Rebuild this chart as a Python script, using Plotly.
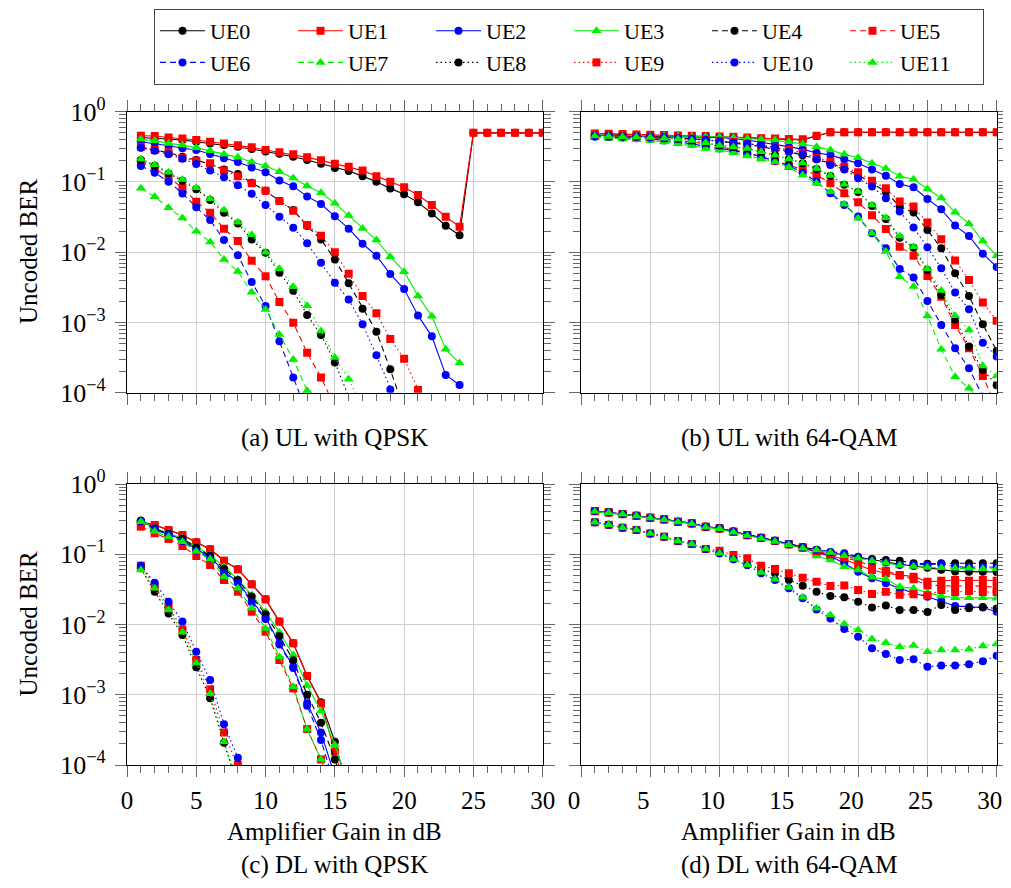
import plotly.graph_objects as go

# ---------------- data ----------------
gain = list(range(1, 31))
ue_names = ["UE0", "UE1", "UE2", "UE3", "UE4", "UE5", "UE6", "UE7", "UE8", "UE9", "UE10", "UE11"]
N = None

# (a) UL with QPSK
a_ue0 = [0.43, 0.42, 0.408, 0.395, 0.374, 0.354, 0.335, 0.318, 0.294, 0.272, 0.252, 0.229, 0.205, 0.182, 0.158,
         0.143, 0.121, 0.101, 0.081, 0.0666, 0.0512, 0.0357, 0.0238, 0.0174, 0.5, 0.5, 0.5, 0.5, 0.5, 0.5]
a_ue1 = [0.455, 0.45, 0.43, 0.417, 0.395, 0.374, 0.354, 0.332, 0.311, 0.285, 0.264, 0.247, 0.224, 0.203, 0.182,
         0.165, 0.145, 0.121, 0.101, 0.0838, 0.0651, 0.0469, 0.032, 0.0231, 0.5, 0.5, 0.5, 0.5, 0.5, 0.5]
a_ue2 = [0.374, 0.354, 0.328, 0.301, 0.285, 0.25, 0.217, 0.192, 0.161, 0.137, 0.105, 0.0865, 0.0623, 0.0485, 0.0324,
         0.0216, 0.0132, 0.00892, 0.00489, 0.00299, 0.00126, 0.000634, 0.000179, 0.000129, N, N, N, N, N, N]
a_ue3 = [0.404, 0.387, 0.354, 0.336, 0.308, 0.279, 0.247, 0.224, 0.192, 0.169, 0.14, 0.114, 0.0875, 0.0703, 0.0496,
         0.0334, 0.0218, 0.0149, 0.00863, 0.00528, 0.00238, 0.00123, 0.000414, 0.000264, N, N, N, N, N, N]
a_ue4 = [0.31, 0.284, 0.261, 0.229, 0.205, 0.178, 0.151, 0.13, 0.0975, 0.075, 0.0535, 0.0398, 0.0236, 0.0152, 0.0079,
         0.0036, 0.00157, 0.00074, 0.000215, 0.0000566, N, N, N, N, N, N, N, N, N, N]
a_ue5 = [0.194, 0.156, 0.116, 0.0828, 0.0524, 0.0365, 0.0216, 0.0144, 0.00757, 0.00453, 0.00195, 0.00099, 0.00037,
         0.000165, 0.0000632, N, N, N, N, N, N, N, N, N, N, N, N, N, N, N]
a_ue6 = [0.169, 0.135, 0.101, 0.0687, 0.0435, 0.0287, 0.0149, 0.00902, 0.00376, 0.00171, 0.000538, 0.000165,
         0.0000508, N, N, N, N, N, N, N, N, N, N, N, N, N, N, N, N, N]
a_ue7 = [0.0811, 0.0617, 0.043, 0.0306, 0.0198, 0.014, 0.0079, 0.00533, 0.00268, 0.00153, 0.000676, 0.000298,
         0.000107, 0.0000408, N, N, N, N, N, N, N, N, N, N, N, N, N, N, N, N]
a_ue8 = [0.205, 0.17, 0.132, 0.104, 0.0784, 0.0553, 0.0365, 0.0257, 0.0152, 0.00984, 0.0051, 0.00283, 0.00128,
         0.000662, 0.00027, 0.0000877, N, N, N, N, N, N, N, N, N, N, N, N, N, N]
a_ue9 = [0.318, 0.284, 0.264, 0.219, 0.2, 0.184, 0.145, 0.121, 0.0955, 0.075, 0.0535, 0.039, 0.0244, 0.0172, 0.00995,
         0.00494, 0.00238, 0.00135, 0.00058, 0.000305, 0.000109, 0.000041, N, N, N, N, N, N, N, N]
a_ue10 = [0.307, 0.279, 0.247, 0.214, 0.18, 0.145, 0.117, 0.0894, 0.0681, 0.0469, 0.032, 0.0223, 0.0134, 0.0071,
          0.00368, 0.00213, 0.00094, 0.00034, 0.000111, 0.0000408, N, N, N, N, N, N, N, N, N, N]
a_ue11 = [0.212, 0.176, 0.137, 0.108, 0.0828, 0.0578, 0.0398, 0.0266, 0.0177, 0.01, 0.00582, 0.00323, 0.00173,
          0.000755, 0.000318, 0.000155, 0.0000632, N, N, N, N, N, N, N, N, N, N, N, N, N]

# (b) UL with 64-QAM
b_ue0 = [0.485, 0.48, 0.475, 0.47, 0.465, 0.46, 0.455, 0.45, 0.445, 0.44, 0.435, 0.425, 0.415, 0.41, 0.4,
         0.395, 0.45, 0.51, 0.51, 0.51, 0.51, 0.51, 0.51, 0.51, 0.51, 0.51, 0.51, 0.51, 0.51, 0.51]
b_ue1 = [0.491, 0.486, 0.48, 0.475, 0.47, 0.465, 0.46, 0.455, 0.45, 0.445, 0.44, 0.43, 0.42, 0.417, 0.408,
         0.404, 0.455, 0.51, 0.51, 0.51, 0.51, 0.51, 0.51, 0.51, 0.51, 0.51, 0.51, 0.51, 0.51, 0.51]
b_ue2 = [0.46, 0.458, 0.455, 0.452, 0.45, 0.447, 0.444, 0.44, 0.435, 0.43, 0.417, 0.395, 0.366, 0.343, 0.318,
         0.291, 0.26, 0.241, 0.21, 0.184, 0.151, 0.123, 0.0933, 0.0838, 0.0572, 0.0408, 0.0239, 0.017, 0.00953, 0.00617]
b_ue3 = [0.465, 0.463, 0.46, 0.458, 0.455, 0.453, 0.45, 0.448, 0.445, 0.44, 0.43, 0.417, 0.404, 0.395, 0.374,
         0.346, 0.318, 0.285, 0.247, 0.221, 0.184, 0.156, 0.121, 0.109, 0.0793, 0.059, 0.0369, 0.0255, 0.0144, 0.0089]
b_ue4 = [0.46, 0.455, 0.45, 0.445, 0.44, 0.43, 0.42, 0.41, 0.4, 0.38, 0.36, 0.34, 0.32, 0.29, 0.27,
         0.24, 0.21, 0.185, 0.155, 0.126, 0.0957, 0.0728, 0.0446, 0.0366, 0.0207, 0.0114, 0.00501, 0.00238, 0.00094,
         0.000393]
b_ue5 = [0.45, 0.445, 0.44, 0.435, 0.425, 0.41, 0.39, 0.37, 0.35, 0.32, 0.29, 0.26, 0.23, 0.2, 0.17,
         0.15, 0.126, 0.0957, 0.069, 0.0514, 0.0336, 0.0214, 0.012, 0.00893, 0.00459, 0.00233, 0.00092, 0.000428,
         0.000173, 0.00006]
b_ue6 = [0.44, 0.435, 0.43, 0.42, 0.41, 0.39, 0.37, 0.35, 0.32, 0.3, 0.28, 0.255, 0.23, 0.2, 0.17,
         0.135, 0.101, 0.069, 0.0471, 0.0321, 0.0186, 0.0114, 0.00578, 0.00435, 0.00202, 0.00092, 0.000428, 0.000223,
         0.0000879, N]
b_ue7 = [0.43, 0.42, 0.41, 0.4, 0.39, 0.37, 0.35, 0.33, 0.3, 0.285, 0.26, 0.235, 0.21, 0.194, 0.162,
         0.126, 0.0957, 0.0728, 0.0481, 0.0304, 0.0186, 0.0102, 0.00449, 0.00324, 0.00124, 0.000415, 0.000169,
         0.000116, 0.00007, N]
b_ue8 = [0.45, 0.445, 0.44, 0.435, 0.43, 0.42, 0.41, 0.39, 0.36, 0.33, 0.315, 0.3, 0.27, 0.24, 0.212,
         0.184, 0.153, 0.122, 0.0916, 0.0721, 0.0455, 0.0297, 0.0161, 0.0116, 0.00558, 0.00246, 0.00109, 0.000453,
         0.000211, 0.000128]
b_ue9 = [0.46, 0.455, 0.45, 0.445, 0.44, 0.435, 0.425, 0.415, 0.4, 0.385, 0.37, 0.35, 0.33, 0.31, 0.29,
         0.26, 0.22, 0.194, 0.165, 0.137, 0.104, 0.0813, 0.0525, 0.0446, 0.0264, 0.0153, 0.00759, 0.00403, 0.00192,
         0.00106]
b_ue10 = [0.455, 0.45, 0.445, 0.44, 0.435, 0.43, 0.42, 0.41, 0.395, 0.374, 0.36, 0.35, 0.335, 0.308, 0.27,
          0.247, 0.21, 0.174, 0.15, 0.113, 0.0859, 0.0586, 0.0379, 0.0224, 0.0118, 0.0059, 0.00266, 0.00154,
          0.000516, 0.000327]
b_ue11 = [0.45, 0.445, 0.44, 0.435, 0.43, 0.42, 0.41, 0.39, 0.36, 0.33, 0.315, 0.3, 0.27, 0.24, 0.212,
          0.186, 0.155, 0.124, 0.093, 0.073, 0.047, 0.031, 0.017, 0.012, 0.0058, 0.00284, 0.00125, 0.00078,
          0.00024, 0.000173]

# (c) DL with QPSK
c_ue0 = [0.29, 0.26, 0.221, 0.188, 0.148, 0.1175, 0.081, 0.061, 0.0373, 0.0228, 0.011, 0.0054, 0.00185, 0.00078,
         0.000215, 0.00004, N, N, N, N, N, N, N, N, N, N, N, N, N, N]
c_ue1 = [0.275, 0.261, 0.221, 0.188, 0.148, 0.1175, 0.081, 0.061, 0.0373, 0.0228, 0.011, 0.0054, 0.00185, 0.000755,
         0.000155, 0.00003, N, N, N, N, N, N, N, N, N, N, N, N, N, N]
c_ue2 = [0.3, 0.235, 0.195, 0.16, 0.118, 0.0924, 0.0565, 0.0407, 0.0216, 0.0126, 0.0054, 0.00251, 0.000755,
         0.000289, 0.00007, N, N, N, N, N, N, N, N, N, N, N, N, N, N, N]
c_ue3 = [0.307, 0.234, 0.199, 0.169, 0.128, 0.0975, 0.0665, 0.044, 0.0263, 0.0152, 0.00774, 0.00368, 0.00135,
         0.000587, 0.000193, 0.00005, N, N, N, N, N, N, N, N, N, N, N, N, N, N]
c_ue4 = [0.3, 0.23, 0.195, 0.165, 0.125, 0.095, 0.062, 0.043, 0.025, 0.014, 0.0068, 0.0031, 0.001, 0.0004,
         0.00012, 0.00003, N, N, N, N, N, N, N, N, N, N, N, N, N, N]
c_ue5 = [0.247, 0.199, 0.165, 0.131, 0.0944, 0.0703, 0.043, 0.0293, 0.0152, 0.0079, 0.00312, 0.00123, 0.000325,
         0.00012, 0.00003, N, N, N, N, N, N, N, N, N, N, N, N, N, N, N]
c_ue6 = [0.295, 0.225, 0.19, 0.155, 0.112, 0.088, 0.054, 0.039, 0.0205, 0.012, 0.0052, 0.0024, 0.0007, 0.000227,
         0.00005, N, N, N, N, N, N, N, N, N, N, N, N, N, N, N]
c_ue7 = [0.291, 0.21, 0.178, 0.151, 0.109, 0.0848, 0.048, 0.0327, 0.017, 0.0088, 0.00348, 0.0013, 0.000322,
         0.00012, 0.00003, N, N, N, N, N, N, N, N, N, N, N, N, N, N, N]
c_ue8 = [0.063, 0.0293, 0.0144, 0.0071, 0.00246, 0.00089, 0.000208, 0.00005, N, N, N, N, N, N, N,
         N, N, N, N, N, N, N, N, N, N, N, N, N, N, N]
c_ue9 = [0.0688, 0.0346, 0.0179, 0.00853, 0.00312, 0.00119, 0.00029, 0.0001, 0.00003, N, N, N, N, N, N,
         N, N, N, N, N, N, N, N, N, N, N, N, N, N, N]
c_ue10 = [0.0688, 0.0394, 0.0211, 0.011, 0.0041, 0.00162, 0.00038, 0.000127, 0.00003, N, N, N, N, N, N,
          N, N, N, N, N, N, N, N, N, N, N, N, N, N, N]
c_ue11 = [0.0597, 0.0327, 0.0161, 0.00774, 0.0028, 0.00103, 0.000215, 0.00006, N, N, N, N, N, N, N,
          N, N, N, N, N, N, N, N, N, N, N, N, N, N, N]

# (d) DL with 64-QAM
d_ue0 = [0.413, 0.395, 0.374, 0.354, 0.332, 0.314, 0.291, 0.276, 0.247, 0.234, 0.21, 0.188, 0.172, 0.156, 0.14,
         0.126, 0.115, 0.106, 0.098, 0.09, 0.083, 0.077, 0.072, 0.068, 0.064, 0.06, 0.057, 0.0565, 0.0565, 0.056]
d_ue1 = [0.413, 0.395, 0.374, 0.354, 0.332, 0.314, 0.291, 0.276, 0.247, 0.234, 0.21, 0.188, 0.172, 0.156, 0.14,
         0.126, 0.105, 0.0944, 0.0847, 0.0703, 0.0597, 0.0536, 0.0508, 0.048, 0.0407, 0.042, 0.043, 0.042, 0.043,
         0.042]
d_ue2 = [0.41, 0.393, 0.372, 0.352, 0.33, 0.312, 0.289, 0.274, 0.245, 0.232, 0.208, 0.186, 0.17, 0.154, 0.138,
         0.124, 0.108, 0.094, 0.0743, 0.0565, 0.0454, 0.0385, 0.032, 0.0278, 0.0249, 0.0216, 0.0184, 0.0178, 0.0175,
         0.0152]
d_ue3 = [0.405, 0.39, 0.37, 0.35, 0.328, 0.31, 0.287, 0.272, 0.243, 0.23, 0.206, 0.184, 0.168, 0.152, 0.136,
         0.122, 0.0944, 0.0828, 0.0665, 0.0597, 0.0469, 0.044, 0.0346, 0.0328, 0.0284, 0.0254, 0.0241, 0.0241,
         0.0241, 0.0237]
d_ue4 = [0.413, 0.395, 0.374, 0.354, 0.332, 0.314, 0.291, 0.276, 0.247, 0.234, 0.21, 0.188, 0.172, 0.156, 0.14,
         0.126, 0.116, 0.107, 0.092, 0.0875, 0.0857, 0.0828, 0.081, 0.0743, 0.073, 0.0743, 0.0743, 0.0743, 0.0743,
         0.0743]
d_ue5 = [0.41, 0.393, 0.372, 0.352, 0.33, 0.312, 0.289, 0.274, 0.245, 0.232, 0.208, 0.186, 0.17, 0.154, 0.138,
         0.124, 0.11, 0.1, 0.09, 0.08, 0.068, 0.058, 0.05, 0.044, 0.036, 0.036, 0.035, 0.036, 0.035, 0.034]
d_ue6 = [0.413, 0.395, 0.374, 0.354, 0.332, 0.314, 0.291, 0.276, 0.247, 0.234, 0.21, 0.188, 0.172, 0.156, 0.14,
         0.126, 0.116, 0.108, 0.103, 0.0924, 0.081, 0.0762, 0.0703, 0.0703, 0.071, 0.0728, 0.0665, 0.0651, 0.0665,
         0.0651]
d_ue7 = [0.405, 0.39, 0.37, 0.35, 0.328, 0.31, 0.287, 0.272, 0.243, 0.23, 0.206, 0.184, 0.168, 0.152, 0.136,
         0.122, 0.115, 0.106, 0.095, 0.088, 0.08, 0.075, 0.07, 0.067, 0.065, 0.064, 0.063, 0.063, 0.062, 0.062]
d_ue8 = [0.285, 0.262, 0.239, 0.222, 0.198, 0.178, 0.154, 0.14, 0.119, 0.103, 0.0847, 0.0704, 0.062, 0.0535,
         0.043, 0.0357, 0.0293, 0.0255, 0.0244, 0.0211, 0.0175, 0.0186, 0.0161, 0.0161, 0.0151, 0.019, 0.0161,
         0.0171, 0.0178, 0.0169]
d_ue9 = [0.285, 0.262, 0.239, 0.222, 0.198, 0.178, 0.154, 0.14, 0.119, 0.112, 0.0976, 0.0875, 0.0687, 0.0617,
         0.0535, 0.0464, 0.0407, 0.0353, 0.036, 0.031, 0.0272, 0.0293, 0.0266, 0.027, 0.026, 0.031, 0.029, 0.03,
         0.029, 0.029]
d_ue10 = [0.285, 0.262, 0.239, 0.222, 0.198, 0.178, 0.154, 0.14, 0.119, 0.103, 0.0847, 0.0704, 0.0535, 0.043,
          0.0327, 0.0236, 0.0164, 0.0122, 0.00863, 0.0067, 0.00458, 0.0038, 0.00313, 0.0032, 0.0025, 0.0026,
          0.0026, 0.00272, 0.003, 0.0036]
d_ue11 = [0.285, 0.262, 0.239, 0.222, 0.198, 0.178, 0.154, 0.14, 0.119, 0.103, 0.0847, 0.0704, 0.055, 0.044,
          0.0335, 0.0245, 0.017, 0.0137, 0.0102, 0.00835, 0.00622, 0.00551, 0.00484, 0.00502, 0.0041, 0.00434,
          0.00434, 0.00446, 0.00494, 0.00528]

x_ticks = [0, 5, 10, 15, 20, 25, 30]
y_tickvals = [1e-4, 1e-3, 1e-2, 1e-1, 1e0]
y_ticktext = ["10<sup>\u22124</sup>", "10<sup>\u22123</sup>", "10<sup>\u22122</sup>",
              "10<sup>\u22121</sup>", "10<sup>0</sup>"]
captions = ["(a) UL with QPSK", "(b) UL with 64-QAM", "(c) DL with QPSK", "(d) DL with 64-QAM"]

# ---------------- build ----------------
panels = [
    [a_ue0, a_ue1, a_ue2, a_ue3, a_ue4, a_ue5, a_ue6, a_ue7, a_ue8, a_ue9, a_ue10, a_ue11],
    [b_ue0, b_ue1, b_ue2, b_ue3, b_ue4, b_ue5, b_ue6, b_ue7, b_ue8, b_ue9, b_ue10, b_ue11],
    [c_ue0, c_ue1, c_ue2, c_ue3, c_ue4, c_ue5, c_ue6, c_ue7, c_ue8, c_ue9, c_ue10, c_ue11],
    [d_ue0, d_ue1, d_ue2, d_ue3, d_ue4, d_ue5, d_ue6, d_ue7, d_ue8, d_ue9, d_ue10, d_ue11],
]

colors = ["#000000", "#ff0000", "#0000ff", "#00f000"]
symbols = ["circle", "square", "circle", "triangle-up"]
msizes = [8, 8, 8, 9]
dashes = ["solid", "6px,4px", "1.5px,3px"]

FONT = "Liberation Serif, Times New Roman, serif"
OFF = 8                      # page body margin: the figure is drawn 8px in from the window corner
W, H = 1011 - 2 * OFF, 888 - 2 * OFF
ML, MR = 112, 2
GW = W - ML - MR


def px_x(p):
    return (p - OFF - ML) / GW


def px_y(p):
    return 1 - (p - OFF) / H


x_dom = [[px_x(127), px_x(542.7)], [px_x(581), px_x(996.7)]]
y_dom = [[px_y(392.7), px_y(111.7)], [px_y(765), px_y(484)]]

fig = go.Figure()
for p, series in enumerate(panels):
    xa = "x" if p == 0 else f"x{p + 1}"
    ya = "y" if p == 0 else f"y{p + 1}"
    for i, vals in enumerate(series):
        c = i % 4
        fig.add_trace(go.Scatter(
            x=gain, y=vals, mode="lines+markers", name=ue_names[i],
            xaxis=xa, yaxis=ya, showlegend=(p == 0), connectgaps=False,
            line=dict(color=colors[c], width=1.1, dash=dashes[i // 4]),
            marker=dict(symbol=symbols[c], size=msizes[c], color=colors[c], line=dict(width=0)),
        ))

minor_y = [k * 10.0 ** e for e in range(-4, 0) for k in range(2, 10)]
grid_c = "#cfcfcf"
tick_c = "#666666"

layout = dict(
    template="none",
    width=W, height=H,
    margin=dict(l=ML, r=MR, t=0, b=0, autoexpand=False),
    paper_bgcolor="white", plot_bgcolor="white",
    font=dict(family=FONT, size=25, color="black"),
    showlegend=True,
    legend=dict(
        orientation="h", x=px_x(154), y=px_y(9), xanchor="left", yanchor="top",
        bordercolor="#444444", borderwidth=1, bgcolor="white",
        font=dict(family=FONT, size=22, color="black"),
        itemwidth=45, entrywidth=78, entrywidthmode="pixels",
        traceorder="normal",
    ),
)

for p in range(4):
    col = p % 2
    row = p // 2
    xk = "xaxis" if p == 0 else f"xaxis{p + 1}"
    yk = "yaxis" if p == 0 else f"yaxis{p + 1}"
    ya = "y" if p == 0 else f"y{p + 1}"
    xa = "x" if p == 0 else f"x{p + 1}"
    layout[xk] = dict(
        domain=x_dom[col], anchor=ya, range=[0, 30], tickmode="array", tickvals=x_ticks,
        showticklabels=(row == 1), tickfont=dict(family=FONT, size=25, color="black"),
        ticklabelshift=(-7 if col == 1 else 0), ticklabeloverflow="allow",
        showgrid=True, gridcolor=grid_c, gridwidth=1.3, zeroline=False, automargin=False,
        showline=True, linecolor="black", linewidth=1.2, mirror="allticks",
        ticks="outside", ticklen=11, tickwidth=1, tickcolor=tick_c, ticklabelstandoff=2,
        minor=dict(ticks="outside", ticklen=7, tickwidth=1, tickcolor=tick_c, dtick=1, tick0=0, showgrid=False),
    )
    layout[yk] = dict(
        domain=y_dom[row], anchor=xa, type="log", range=[-4, 0],
        tickmode="array", tickvals=y_tickvals, ticktext=y_ticktext,
        showticklabels=(col == 0), tickfont=dict(family=FONT, size=26, color="black"),
        showgrid=True, gridcolor=grid_c, gridwidth=1.3, zeroline=False, automargin=False,
        showline=True, linecolor="black", linewidth=1.2, mirror="allticks",
        ticks="outside", ticklen=11, tickwidth=1, tickcolor=tick_c, ticklabelstandoff=4,
        minor=dict(ticks="outside", ticklen=7, tickwidth=1, tickcolor=tick_c, tickvals=minor_y, showgrid=False),
    )

fig.update_layout(**layout)

ann = []
cx = [px_x((127 + 542.7) / 2), px_x((581 + 996.7) / 2)]
for p in range(4):
    col = p % 2
    row = p // 2
    ann.append(dict(text=captions[p], x=cx[col], y=px_y([438, 865][row]), xref="paper", yref="paper",
                    showarrow=False, xanchor="center", yanchor="middle", font=dict(family=FONT, size=25)))
    if row == 1:
        ann.append(dict(text="Amplifier Gain in dB", x=cx[col], y=px_y(831), xref="paper", yref="paper",
                        showarrow=False, xanchor="center", yanchor="middle", font=dict(family=FONT, size=25)))
    if col == 0:
        ann.append(dict(text="Uncoded BER", x=px_x(28), y=px_y([252, 624.5][row]), xref="paper", yref="paper",
                        showarrow=False, textangle=-90, xanchor="center", yanchor="middle",
                        font=dict(family=FONT, size=25)))
fig.update_layout(annotations=ann)

fig.write_html("out.html")
